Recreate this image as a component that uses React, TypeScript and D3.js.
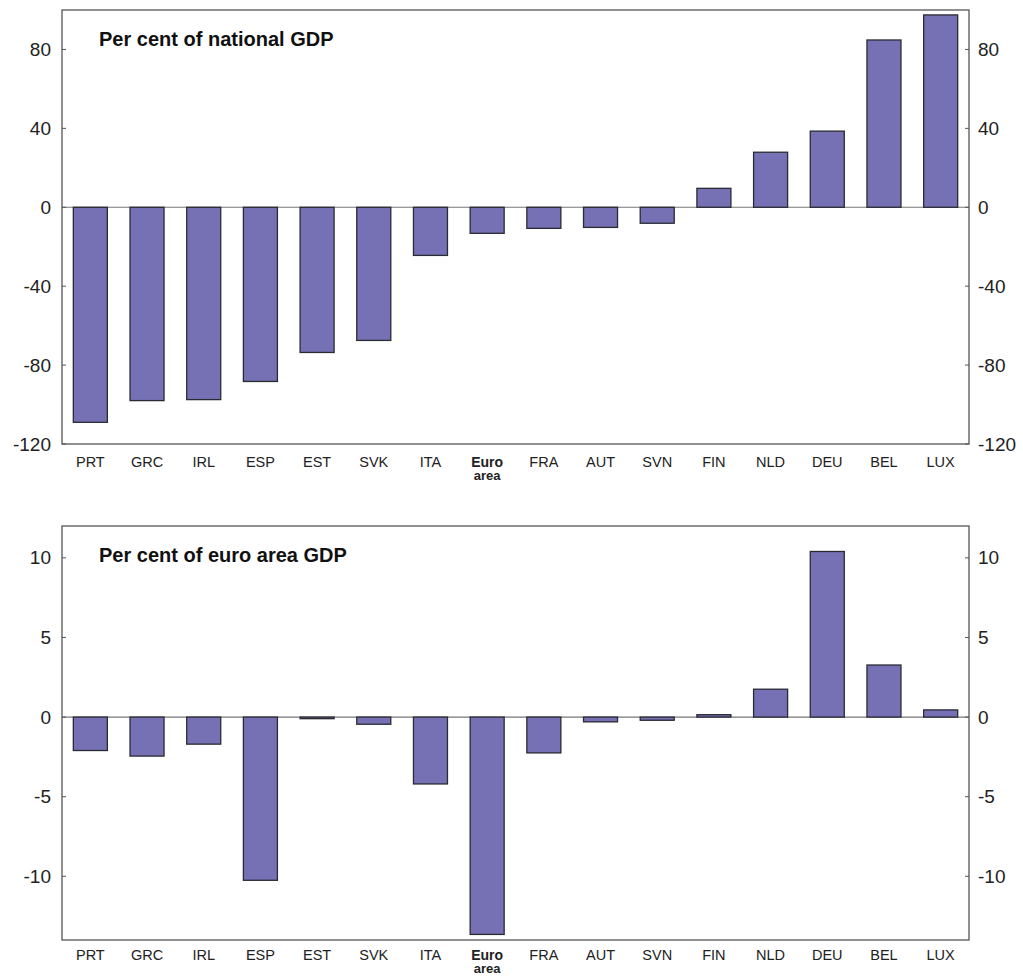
import { useEffect, useRef } from 'react';
import * as d3 from 'd3';

const categories = ['PRT', 'GRC', 'IRL', 'ESP', 'EST', 'SVK', 'ITA', 'Euro area', 'FRA', 'AUT', 'SVN', 'FIN', 'NLD', 'DEU', 'BEL', 'LUX'];
const nationalGdp = [-109, -98, -97.5, -88.3, -73.6, -67.5, -24.4, -13.2, -10.7, -10.2, -8.1, 9.6, 27.9, 38.6, 84.8, 97.5];
const euroAreaGdp = [-2.1, -2.45, -1.7, -10.25, -0.1, -0.45, -4.2, -13.65, -2.25, -0.3, -0.2, 0.15, 1.75, 10.4, 3.27, 0.45];
const topTicks = [-120, -80, -40, 0, 40, 80];
const bottomTicks = [-10, -5, 0, 5, 10];

const W = 1023;
const H = 976;
const left = 62;
const right = 969;
const font = 'Liberation Sans, Arial, sans-serif';

export default function App() {
  const svgRef = useRef<SVGSVGElement>(null);

  useEffect(() => {
    if (!svgRef.current) return;
    const svg = d3.select(svgRef.current);
    svg.selectAll('*').remove();

    const x = d3.scaleBand<string>().domain(categories).range([left, right]).paddingInner(0.4).paddingOuter(0.2);

    const panel = (values: number[], domain: [number, number], ticks: number[], top: number, bottom: number, title: string, labelGap: number) => {
      const y = d3.scaleLinear().domain(domain).range([bottom, top]);
      const g = svg.append('g');

      // zero line
      g.append('line')
        .attr('x1', left).attr('x2', right)
        .attr('y1', y(0)).attr('y2', y(0))
        .attr('stroke', '#777').attr('stroke-width', 1.2);

      g.selectAll('rect.bar')
        .data(values)
        .enter()
        .append('rect')
        .attr('class', 'bar')
        .attr('x', (_, i) => x(categories[i])!)
        .attr('width', x.bandwidth())
        .attr('y', (d) => Math.min(y(d), y(0)))
        .attr('height', (d) => Math.abs(y(d) - y(0)))
        .attr('fill', '#7571b4')
        .attr('stroke', '#2a2a33')
        .attr('stroke-width', 1.3);

      // frame
      g.append('rect')
        .attr('x', left).attr('y', top)
        .attr('width', right - left).attr('height', bottom - top)
        .attr('fill', 'none').attr('stroke', '#555').attr('stroke-width', 1.3);

      ticks.forEach((t) => {
        g.append('line').attr('x1', left).attr('x2', left + 4).attr('y1', y(t)).attr('y2', y(t)).attr('stroke', '#555');
        g.append('line').attr('x1', right - 4).attr('x2', right).attr('y1', y(t)).attr('y2', y(t)).attr('stroke', '#555');
        g.append('text').attr('x', left - 11).attr('y', y(t)).attr('dy', '0.35em')
          .attr('text-anchor', 'end').attr('font-family', font).attr('font-size', 19).attr('fill', '#222')
          .text(t);
        g.append('text').attr('x', right + 9).attr('y', y(t)).attr('dy', '0.35em')
          .attr('text-anchor', 'start').attr('font-family', font).attr('font-size', 19).attr('fill', '#222')
          .text(t);
      });

      categories.forEach((c) => {
        const cx = x(c)! + x.bandwidth() / 2;
        if (c === 'Euro area') {
          const t = g.append('text').attr('x', cx).attr('y', bottom + labelGap)
            .attr('text-anchor', 'middle').attr('font-family', font).attr('font-size', 14)
            .attr('font-weight', 'bold').attr('fill', '#222');
          t.append('tspan').attr('x', cx).text('Euro');
          t.append('tspan').attr('x', cx).attr('dy', 13).attr('font-size', 13).text('area');
        } else {
          g.append('text').attr('x', cx).attr('y', bottom + labelGap)
            .attr('text-anchor', 'middle').attr('font-family', font).attr('font-size', 14.5)
            .attr('fill', '#222').text(c);
        }
      });

      g.append('text').attr('x', 99).attr('y', top + 36)
        .attr('font-family', font).attr('font-size', 20).attr('font-weight', 'bold').attr('fill', '#111')
        .text(title);
    };

    panel(nationalGdp, [-120, 100], topTicks, 10, 444, 'Per cent of national GDP', 23);
    panel(euroAreaGdp, [-14, 12], bottomTicks, 526, 940, 'Per cent of euro area GDP', 20);
  }, []);

  return (
    <svg
      ref={svgRef}
      width={W}
      height={H}
      style={{ position: 'absolute', top: 0, left: 0, background: '#fff' }}
    />
  );
}
